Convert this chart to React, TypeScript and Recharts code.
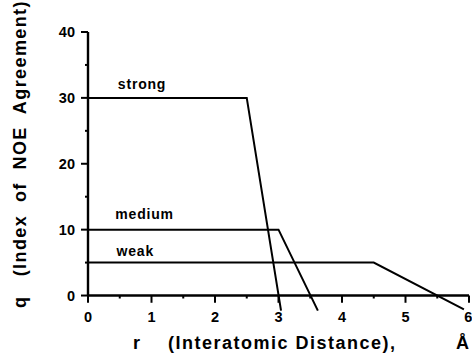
import React from 'react';
import { LineChart, Line, XAxis, YAxis, ReferenceLine, ReferenceDot } from 'recharts';

// q vs r breakpoints for each NOE class
const strongR = [0, 2.5, 3.04];
const strongQ = [30, 30, -2.3];
const mediumR = [0, 3.0, 3.62];
const mediumQ = [10, 10, -2.3];
const weakR = [0, 4.5, 5.92];
const weakQ = [5, 5, -2.1];

const seriesNames = ['strong', 'medium', 'weak'];
const labelR = [0.47, 0.43, 0.45];
const labelQ = [31.3, 11.6, 6.0];

const xMajorTicks = [0, 1, 2, 3, 4, 5, 6];
const xMinorTicks = [0.5, 1.5, 2.5, 3.5, 4.5, 5.5];
const yTicks = [0, 5, 10, 15, 20, 25, 30, 35, 40];

const toPoints = (r: number[], q: number[]) => r.map((v, i) => ({ r: v, q: q[i] }));

const FONT = '"Liberation Sans", Arial, Helvetica, sans-serif';
const TICK_MARGIN = 6;
const TICK_SIZE = 7;

const YTick = (props: any) => {
  const { x, y, payload } = props;
  const major = payload.value % 10 === 0;
  const axisX = x + TICK_MARGIN + TICK_SIZE;
  return (
    <g>
      <line x1={axisX - (major ? TICK_SIZE : 3)} x2={axisX} y1={y} y2={y} stroke="#000" strokeWidth={2} />
      {major && (
        <text x={x} y={y} dy="0.36em" textAnchor="end" fontFamily={FONT} fontWeight="bold" fontSize={14.5} fill="#000">
          {payload.value}
        </text>
      )}
    </g>
  );
};

const YTitle = (props: any) => {
  const { viewBox } = props;
  const cx = viewBox.x + 20;
  const cy = viewBox.y + viewBox.height / 2 - 18;
  return (
    <text
      x={cx}
      y={cy}
      transform={`rotate(-90, ${cx}, ${cy})`}
      textAnchor="middle"
      dy="0.35em"
      fontFamily={FONT}
      fontWeight="bold"
      fontSize={18}
      letterSpacing={1.4}
      fill="#000"
    >
      {'q\u00A0\u00A0 (Index\u00A0 of\u00A0 NOE\u00A0 Agreement)'}
    </text>
  );
};

const XTitle = (props: any) => {
  const { viewBox } = props;
  const y = viewBox.y + 37;
  return (
    <text y={y} fontFamily={FONT} fontWeight="bold" fontSize={18} letterSpacing={1.5} fill="#000">
      <tspan x={viewBox.x + 45}>r</tspan>
      <tspan x={viewBox.x + 80}>(Interatomic Distance),</tspan>
      <tspan x={viewBox.x + 368}>{'\u00C5'}</tspan>
    </text>
  );
};

const SeriesLabel = (text: string) => (props: any) => {
  const { viewBox } = props;
  return (
    <text x={viewBox.x} y={viewBox.y} fontFamily={FONT} fontWeight="bold" fontSize={14} letterSpacing={0.8} fill="#000">
      {text}
    </text>
  );
};

export default function App() {
  return (
    <div style={{ position: 'absolute', left: 0, top: 0, background: '#fff' }}>
      <LineChart width={472} height={357} margin={{ top: 32, right: 3, bottom: 0, left: 0 }}>
        <XAxis
          dataKey="r"
          type="number"
          domain={[0, 6]}
          ticks={xMajorTicks}
          axisLine={false}
          tickLine={false}
          tickSize={0}
          tickMargin={0}
          height={45}
          tick={{ fill: '#000', fontSize: 14.5, fontWeight: 'bold', fontFamily: FONT }}
          label={{ content: XTitle }}
        />
        <YAxis
          dataKey="q"
          type="number"
          domain={[-2.5, 40]}
          ticks={yTicks}
          axisLine={false}
          tickLine={false}
          tickSize={TICK_SIZE}
          tickMargin={TICK_MARGIN}
          width={88}
          tick={<YTick />}
          label={{ content: YTitle }}
        />
        <ReferenceLine y={0} stroke="#000" strokeWidth={2.4} />
        <ReferenceLine segment={[{ x: 0, y: 0 }, { x: 0, y: 40 }]} stroke="#000" strokeWidth={2.4} />
        {xMajorTicks.map((v) => (
          <ReferenceLine key={`M${v}`} segment={[{ x: v, y: 0 }, { x: v, y: -1.1 }]} stroke="#000" strokeWidth={2} />
        ))}
        {xMinorTicks.map((v) => (
          <ReferenceLine key={`m${v}`} segment={[{ x: v, y: 0 }, { x: v, y: -0.45 }]} stroke="#000" strokeWidth={2} />
        ))}
        <Line data={toPoints(strongR, strongQ)} dataKey="q" stroke="#000" strokeWidth={2} dot={false} isAnimationActive={false} />
        <Line data={toPoints(mediumR, mediumQ)} dataKey="q" stroke="#000" strokeWidth={2} dot={false} isAnimationActive={false} />
        <Line data={toPoints(weakR, weakQ)} dataKey="q" stroke="#000" strokeWidth={2} dot={false} isAnimationActive={false} />
        {seriesNames.map((name, i) => (
          <ReferenceDot key={name} x={labelR[i]} y={labelQ[i]} r={0} fill="none" stroke="none" label={{ content: SeriesLabel(name) }} />
        ))}
      </LineChart>
    </div>
  );
}
